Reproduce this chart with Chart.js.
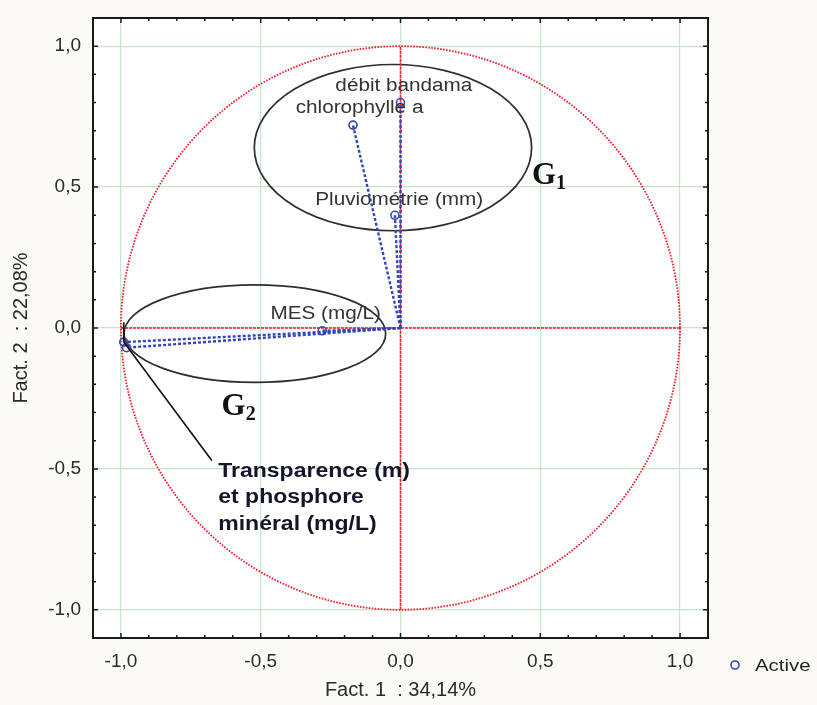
<!DOCTYPE html>
<html lang="fr">
<head>
<meta charset="UTF-8">
<title>Cercle des corrélations</title>
<script src="https://cdn.jsdelivr.net/npm/chart.js"></script>
<style>
  html, body { margin: 0; padding: 0; background: #fbfaf4; }
  #wrap { width: 817px; height: 705px; }
</style>
</head>
<body>
<div id="wrap"><canvas id="acp" width="817" height="705"></canvas></div>
<script>
// variables actives et coordonnées sur les facteurs 1 et 2
const variables = ['débit bandama', 'chlorophylle a', 'Pluviométrie (mm)', 'MES (mg/L)', 'Transparence (m)', 'phosphore minéral (mg/L)'];
const fact1 = [0.00, -0.17, -0.02, -0.28, -0.99, -0.98];
const fact2 = [0.80, 0.72, 0.40, -0.01, -0.05, -0.07];
const tickValues = [-1.0, -0.5, 0.0, 0.5, 1.0];
const axisTitles = ['Fact. 1  : 34,14%', 'Fact. 2  : 22,08%'];
const seriesName = 'Active';

const BLUE = '#3545b8';
const RED = '#ec1c2a';
const SANS = '"Liberation Sans", Arial, sans-serif';
const fmt = v => v.toFixed(1).replace('.', ',');

// un segment pointillé de l'origine vers chaque variable
const vectorSets = variables.map((name, i) => ({
  label: name,
  data: [{x: 0, y: 0}, {x: fact1[i], y: fact2[i]}],
  showLine: true,
  borderColor: BLUE,
  borderWidth: 2.4,
  borderDash: [3, 2],
  pointRadius: [0, 4],
  pointBorderColor: BLUE,
  pointBackgroundColor: 'rgba(0,0,0,0)',
  pointBorderWidth: 1.6
}));

const axisSets = [
  {label: 'axe1', data: [{x: -1, y: 0}, {x: 1, y: 0}]},
  {label: 'axe2', data: [{x: 0, y: -1}, {x: 0, y: 1}]}
].map(d => Object.assign(d, {
  showLine: true, borderColor: RED, borderWidth: 1.6, borderDash: [3, 1], pointRadius: 0, order: 5
}));

// texte un peu étiré horizontalement, comme dans la figure d'origine
function wideText(ctx, text, x, y, sx) {
  ctx.save();
  ctx.translate(x, y);
  ctx.scale(sx, 1);
  ctx.fillText(text, 0, 0);
  ctx.restore();
}

// fond, cercle, ellipses, cadre, graduations, annotations
const decor = {
  id: 'decor',
  beforeDraw(chart) {
    const {ctx, chartArea: a} = chart;
    ctx.save();
    ctx.fillStyle = '#fbfaf4';
    ctx.fillRect(0, 0, chart.width, chart.height);
    ctx.fillStyle = '#ffffff';
    ctx.fillRect(a.left, a.top, a.right - a.left, a.bottom - a.top);
    ctx.restore();
  },
  beforeDatasetsDraw(chart) {
    const {ctx, scales: {x, y}} = chart;
    const px = v => x.getPixelForValue(v), py = v => y.getPixelForValue(v);
    ctx.save();
    // cercle unité
    ctx.strokeStyle = RED;
    ctx.lineWidth = 1.8;
    ctx.setLineDash([1.6, 1.4]);
    ctx.beginPath();
    ctx.ellipse(px(0), py(0), px(1) - px(0), py(0) - py(1), 0, 0, Math.PI * 2);
    ctx.stroke();
    // groupes G1 et G2
    ctx.setLineDash([]);
    ctx.strokeStyle = '#2e2e2e';
    ctx.lineWidth = 1.7;
    [[-0.027, 0.64, 0.496, 0.295], [-0.521, -0.02, 0.468, 0.173]].forEach(([cx, cy, rx, ry]) => {
      ctx.beginPath();
      ctx.ellipse(px(cx), py(cy), px(cx + rx) - px(cx), py(cy) - py(cy + ry), 0, 0, Math.PI * 2);
      ctx.stroke();
    });
    ctx.restore();
  },
  afterDraw(chart) {
    const {ctx, chartArea: a, scales: {x, y}} = chart;
    const px = v => x.getPixelForValue(v), py = v => y.getPixelForValue(v);
    ctx.save();
    // cadre
    ctx.strokeStyle = '#1a1a1a';
    ctx.lineWidth = 2;
    ctx.strokeRect(a.left, a.top, a.right - a.left, a.bottom - a.top);
    // graduations vers l'intérieur
    ctx.lineWidth = 1.5;
    for (let k = -11; k <= 11; k++) {
      const v = k / 10;
      const len = k % 5 === 0 ? 5 : 3;
      const X = px(v), Y = py(v);
      ctx.beginPath();
      ctx.moveTo(X, a.bottom); ctx.lineTo(X, a.bottom - len);
      ctx.moveTo(X, a.top); ctx.lineTo(X, a.top + len);
      ctx.moveTo(a.left, Y); ctx.lineTo(a.left + len, Y);
      ctx.moveTo(a.right, Y); ctx.lineTo(a.right - len, Y);
      ctx.stroke();
    }
    // étiquettes des variables
    ctx.fillStyle = '#333333';
    ctx.font = '18px ' + SANS;
    ctx.textBaseline = 'middle';
    ctx.textAlign = 'left';
    wideText(ctx, variables[0], px(-0.233), py(0.86), 1.15);
    wideText(ctx, variables[1], px(-0.375), py(0.78), 1.15);
    wideText(ctx, variables[2], px(-0.305), py(0.455), 1.15);
    wideText(ctx, variables[3], px(-0.465), py(0.05), 1.15);
    // renvoi pour Transparence et phosphore
    ctx.strokeStyle = '#111111';
    ctx.lineWidth = 1.6;
    ctx.beginPath();
    ctx.moveTo(px(fact1[4]), py(fact2[4]));
    ctx.lineTo(px(-0.675), py(-0.47));
    ctx.moveTo(px(-0.99), py(0.02));
    ctx.lineTo(px(-0.99), py(-0.05));
    ctx.stroke();
    ctx.fillStyle = '#15152a';
    ctx.font = 'bold 20px ' + SANS;
    const x0 = px(-0.652);
    wideText(ctx, 'Transparence (m)', x0, py(-0.51), 1.15);
    wideText(ctx, 'et phosphore', x0, py(-0.603), 1.15);
    wideText(ctx, 'minéral (mg/L)', x0, py(-0.696), 1.15);
    // G1 / G2
    ctx.fillStyle = '#111111';
    ctx.textBaseline = 'alphabetic';
    [['1', 0.47, 0.51], ['2', -0.64, -0.31]].forEach(([sub, gx, gy]) => {
      ctx.font = 'bold 31px "Liberation Serif", "Times New Roman", serif';
      ctx.fillText('G', px(gx), py(gy));
      const w = ctx.measureText('G').width;
      ctx.font = 'bold 20px "Liberation Serif", "Times New Roman", serif';
      ctx.fillText(sub, px(gx) + w, py(gy) + 5);
    });
    // légende
    ctx.strokeStyle = BLUE;
    ctx.lineWidth = 1.6;
    ctx.beginPath();
    ctx.arc(735, 665, 4, 0, Math.PI * 2);
    ctx.stroke();
    ctx.fillStyle = '#222222';
    ctx.font = '17px ' + SANS;
    ctx.textBaseline = 'middle';
    wideText(ctx, seriesName, 755, 666, 1.2);
    ctx.restore();
  }
};

const keepTicks = scale => { scale.ticks = tickValues.map(v => ({value: v})); };
const tickFont = {family: SANS, size: 19};
const titleFont = {family: SANS, size: 20};

new Chart(document.getElementById('acp'), {
  type: 'scatter',
  data: {datasets: [...axisSets, ...vectorSets]},
  options: {
    responsive: false,
    animation: false,
    layout: {padding: {top: 18, right: 109, left: 0, bottom: 0}},
    plugins: {legend: {display: false}, tooltip: {enabled: false}},
    scales: {
      x: {
        type: 'linear', min: -1.1, max: 1.1,
        afterBuildTicks: keepTicks,
        afterFit: s => { s.height = 67; s.paddingLeft = 0; s.paddingRight = 0; },
        grid: {color: '#c6e4c6', lineWidth: 1.2, drawTicks: false},
        border: {display: false},
        ticks: {padding: 12, color: '#2a2a2a', font: tickFont, callback: fmt},
        title: {display: true, text: axisTitles[0], color: '#2a2a2a', font: titleFont, padding: {top: 0, bottom: 3}}
      },
      y: {
        type: 'linear', min: -1.1, max: 1.1,
        afterBuildTicks: keepTicks,
        afterFit: s => { s.width = 93; s.paddingTop = 0; s.paddingBottom = 0; },
        grid: {color: '#c6e4c6', lineWidth: 1.2, drawTicks: false},
        border: {display: false},
        ticks: {padding: 12, color: '#2a2a2a', font: tickFont, callback: fmt},
        title: {display: true, text: axisTitles[1], color: '#2a2a2a', font: titleFont, padding: {top: 9, bottom: 0}}
      }
    }
  },
  plugins: [decor]
});
</script>
</body>
</html>
